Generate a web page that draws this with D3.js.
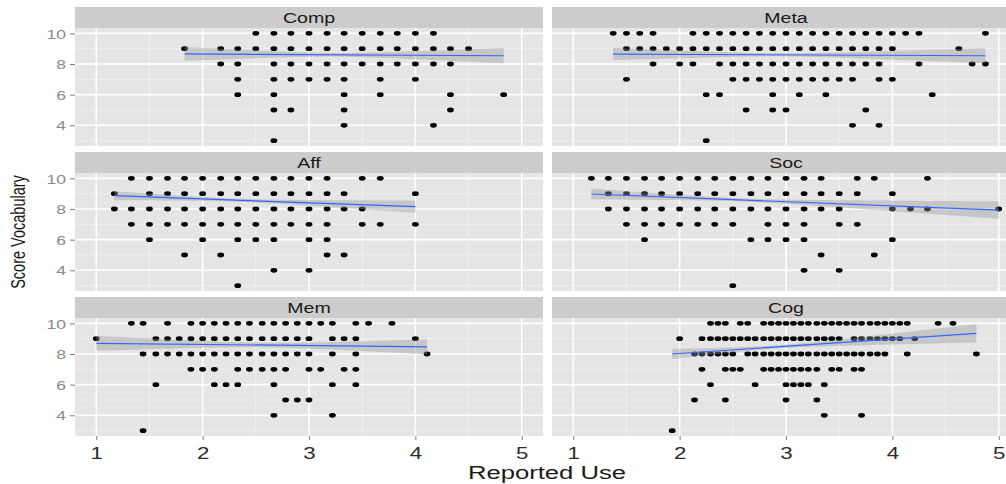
<!DOCTYPE html>
<html>
<head>
<meta charset="utf-8">
<script src="https://cdn.jsdelivr.net/npm/d3@7"></script>
<style>
  html, body { margin: 0; padding: 0; background: #ffffff; }
  svg { display: block; }
  text { font-family: "Liberation Sans", Arial, sans-serif; }
</style>
</head>
<body>
<svg id="chart" width="1006" height="484"></svg>
<script>
// Facet names, in panel order (left-to-right, top-to-bottom)
const facets = ["Comp", "Meta", "Aff", "Soc", "Mem", "Cog"];
const useTicks = [1, 2, 3, 4, 5];
const scoreTicks = [4, 6, 8, 10];
const useMinor = [1.5, 2.5, 3.5, 4.5];
const scoreMinor = [3, 5, 7, 9];

// Observations per facet: [vocabulary score, reported-use values at that score]
const compPoints = [
  [10, [2.5, 2.67, 2.83, 3, 3.17, 3.33, 3.5, 3.67, 3.83, 4, 4.17]],
  [9, [1.83, 2.17, 2.33, 2.5, 2.67, 2.83, 3, 3.17, 3.33, 3.5, 3.67, 3.83, 4, 4.17, 4.33, 4.5]],
  [8, [2.17, 2.33, 2.67, 2.83, 3, 3.17, 3.33, 3.5, 3.67, 3.83, 4, 4.17, 4.33]],
  [7, [2.33, 2.67, 2.83, 3, 3.17, 3.33, 3.67, 4]],
  [6, [2.33, 2.67, 3.33, 3.67, 4.33, 4.83]],
  [5, [2.67, 2.83, 3.33, 4.33]],
  [4, [3.33, 4.17]],
  [3, [2.67]]
];
const metaPoints = [
  [10, [1.375, 1.5, 1.625, 1.75, 2.125, 2.25, 2.375, 2.5, 2.625, 2.75, 2.875, 3, 3.125, 3.25, 3.375, 3.5, 3.625, 3.75, 3.875, 4, 4.125, 4.25, 4.875]],
  [9, [1.5, 1.625, 1.75, 1.875, 2, 2.125, 2.25, 2.375, 2.5, 2.625, 2.75, 2.875, 3, 3.125, 3.25, 3.375, 3.5, 3.625, 3.75, 3.875, 4, 4.625]],
  [8, [1.75, 2, 2.125, 2.375, 2.5, 2.625, 2.75, 2.875, 3, 3.125, 3.25, 3.375, 3.5, 3.625, 3.75, 3.875, 4.25, 4.75, 4.875]],
  [7, [1.5, 2.5, 2.625, 2.75, 2.875, 3, 3.125, 3.25, 3.375, 3.5, 3.625, 3.875, 4]],
  [6, [2.25, 2.375, 2.875, 3.125, 3.375, 4.375]],
  [5, [2.625, 2.875, 3, 3.75]],
  [4, [3.625, 3.875]],
  [3, [2.25]]
];
const affPoints = [
  [10, [1.33, 1.5, 1.67, 1.83, 2, 2.17, 2.33, 2.5, 2.67, 2.83, 3, 3.17, 3.5, 3.67]],
  [9, [1.17, 1.5, 1.67, 1.83, 2, 2.17, 2.33, 2.5, 2.67, 2.83, 3, 3.17, 3.33, 4]],
  [8, [1.17, 1.33, 1.5, 1.67, 1.83, 2, 2.17, 2.33, 2.5, 2.67, 2.83, 3, 3.17, 3.33, 3.5]],
  [7, [1.33, 1.5, 1.67, 1.83, 2, 2.17, 2.33, 2.5, 2.67, 2.83, 3, 3.17, 3.5, 3.67, 4]],
  [6, [1.5, 2, 2.33, 2.5, 2.67, 3, 3.17]],
  [5, [1.83, 2.17, 3.17, 3.33]],
  [4, [2.67, 3]],
  [3, [2.33]]
];
const socPoints = [
  [10, [1.17, 1.33, 1.5, 1.67, 1.83, 2, 2.17, 2.33, 2.5, 2.67, 2.83, 3, 3.17, 3.33, 3.67, 3.83, 4.33]],
  [9, [1.33, 1.5, 1.67, 1.83, 2, 2.17, 2.33, 2.5, 2.67, 2.83, 3, 3.17, 3.33, 3.5, 3.67, 4]],
  [8, [1.33, 1.5, 1.67, 1.83, 2, 2.17, 2.33, 2.5, 2.67, 2.83, 3, 3.17, 3.33, 3.5, 4, 4.17, 4.33, 5]],
  [7, [1.5, 1.67, 1.83, 2, 2.17, 2.33, 2.5, 2.83, 3, 3.17, 3.5, 3.67]],
  [6, [1.67, 2.67, 2.83, 3, 3.17, 4]],
  [5, [3.33, 3.83]],
  [4, [3.17, 3.5]],
  [3, [2.5]]
];
const memPoints = [
  [10, [1.33, 1.44, 1.67, 1.89, 2, 2.11, 2.22, 2.33, 2.44, 2.56, 2.67, 2.78, 2.89, 3, 3.11, 3.22, 3.44, 3.56, 3.78]],
  [9, [1, 1.56, 1.67, 1.78, 1.89, 2, 2.11, 2.22, 2.33, 2.44, 2.56, 2.67, 2.78, 2.89, 3, 3.22, 3.33, 3.44, 4]],
  [8, [1.44, 1.56, 1.67, 1.78, 1.89, 2, 2.11, 2.22, 2.33, 2.44, 2.56, 2.67, 2.78, 2.89, 3, 3.22, 3.44, 4.11]],
  [7, [1.89, 2, 2.11, 2.33, 2.44, 2.56, 2.67, 2.78, 3, 3.11, 3.33, 3.44]],
  [6, [1.56, 2.11, 2.22, 2.33, 2.67, 3.22, 3.44]],
  [5, [2.78, 2.89, 3]],
  [4, [2.67, 3.22]],
  [3, [1.44]]
];
const cogPoints = [
  [10, [2.29, 2.36, 2.43, 2.57, 2.64, 2.79, 2.86, 2.93, 3, 3.07, 3.14, 3.21, 3.29, 3.36, 3.43, 3.5, 3.57, 3.64, 3.71, 3.79, 3.86, 3.93, 4, 4.07, 4.14, 4.43, 4.57]],
  [9, [2, 2.21, 2.29, 2.36, 2.43, 2.5, 2.57, 2.64, 2.71, 2.79, 2.86, 2.93, 3, 3.07, 3.14, 3.21, 3.29, 3.36, 3.43, 3.5, 3.64, 3.71, 3.79, 3.86, 3.93, 4, 4.07, 4.21]],
  [8, [2.14, 2.21, 2.29, 2.36, 2.43, 2.5, 2.64, 2.71, 2.79, 2.86, 2.93, 3, 3.07, 3.14, 3.21, 3.29, 3.36, 3.43, 3.5, 3.57, 3.64, 3.71, 3.79, 3.86, 3.93, 4.14, 4.79]],
  [7, [2.21, 2.43, 2.5, 2.57, 2.79, 2.86, 2.93, 3, 3.07, 3.14, 3.21, 3.29, 3.43, 3.5, 3.64, 3.71]],
  [6, [2.29, 2.71, 3, 3.07, 3.14, 3.21, 3.36]],
  [5, [2.14, 2.43, 3, 3.29]],
  [4, [3.36, 3.71]],
  [3, [1.93]]
];

// Linear fit per facet: fitted score at the lowest and highest reported use,
// and the half-width of the confidence band at the left end, right end and narrowest point
const fitStart = [8.66, 8.65, 8.87, 8.98, 8.70, 8.00];
const fitEnd = [8.54, 8.54, 8.15, 7.93, 8.47, 9.35];
const bandLeft = [0.45, 0.40, 0.29, 0.35, 0.49, 0.33];
const bandRight = [0.50, 0.49, 0.40, 0.57, 0.49, 0.60];
const bandMin = [0.12, 0.10, 0.10, 0.10, 0.15, 0.10];

const pointSets = [compPoints, metaPoints, affPoints, socPoints, memPoints, cogPoints];

// ---- layout ----
const colX = [75, 552];
const panelW = 468;
const rowTop = [7, 152, 297];
const stripH = 21;
const panelH = 118;
const xDomain = [0.8, 5.2];
const yDomain = [2.65, 10.35];
const stretch = 1.35; // horizontal widening of all text

const svg = d3.select("#chart");
svg.append("rect").attr("width", 1006).attr("height", 484).attr("fill", "#ffffff");

facets.forEach((name, i) => {
  const col = i % 2, row = Math.floor(i / 2);
  const x0 = colX[col];
  const top = rowTop[row] + stripH;
  const x = d3.scaleLinear().domain(xDomain).range([x0, x0 + panelW]);
  const y = d3.scaleLinear().domain(yDomain).range([top + panelH, top]);

  const g = svg.append("g").attr("class", "panel");

  // strip
  g.append("rect").attr("x", x0).attr("y", rowTop[row]).attr("width", panelW).attr("height", stripH)
    .attr("fill", "#cccccc");
  g.append("text")
    .attr("transform", `translate(${x0 + panelW / 2},${rowTop[row] + 16}) scale(${stretch},1)`)
    .attr("text-anchor", "middle").attr("font-size", 14.5).attr("fill", "#1a1a1a")
    .text(name);

  // panel background
  g.append("rect").attr("x", x0).attr("y", top).attr("width", panelW).attr("height", panelH)
    .attr("fill", "#e5e5e5");

  // minor grid
  g.selectAll(".vminor").data(useMinor).join("line")
    .attr("x1", d => x(d)).attr("x2", d => x(d)).attr("y1", top).attr("y2", top + panelH)
    .attr("stroke", "#f2f2f2").attr("stroke-width", 0.9);
  g.selectAll(".hminor").data(scoreMinor).join("line")
    .attr("y1", d => y(d)).attr("y2", d => y(d)).attr("x1", x0).attr("x2", x0 + panelW)
    .attr("stroke", "#f2f2f2").attr("stroke-width", 0.9);
  // major grid
  g.selectAll(".vmajor").data(useTicks).join("line")
    .attr("x1", d => x(d)).attr("x2", d => x(d)).attr("y1", top).attr("y2", top + panelH)
    .attr("stroke", "#ffffff").attr("stroke-width", 1.6);
  g.selectAll(".hmajor").data(scoreTicks).join("line")
    .attr("y1", d => y(d)).attr("y2", d => y(d)).attr("x1", x0).attr("x2", x0 + panelW)
    .attr("stroke", "#ffffff").attr("stroke-width", 1.6);

  // points
  const pts = [];
  pointSets[i].forEach(([score, uses]) => uses.forEach(u => pts.push({ u, score })));
  g.selectAll(".pt").data(pts).join("ellipse")
    .attr("cx", d => x(d.u)).attr("cy", d => y(d.score))
    .attr("rx", 3.4).attr("ry", 2.4).attr("fill", "#000000");

  // fitted line with confidence band
  const [uMin, uMax] = d3.extent(pts, d => d.u);
  const slope = (fitEnd[i] - fitStart[i]) / (uMax - uMin);
  const fit = u => fitStart[i] + slope * (u - uMin);
  const a = Math.sqrt(bandLeft[i] ** 2 - bandMin[i] ** 2);
  const b = Math.sqrt(bandRight[i] ** 2 - bandMin[i] ** 2);
  const uBar = (uMin * b + uMax * a) / (a + b);
  const c = a / Math.max(uBar - uMin, 1e-6);
  const halfWidth = u => Math.sqrt(bandMin[i] ** 2 + (c * (u - uBar)) ** 2);
  const grid = d3.range(0, 81).map(k => uMin + (uMax - uMin) * k / 80);

  g.append("path").datum(grid)
    .attr("d", d3.area().x(u => x(u)).y0(u => y(fit(u) - halfWidth(u))).y1(u => y(fit(u) + halfWidth(u))))
    .attr("fill", "#999999").attr("fill-opacity", 0.4);
  g.append("path").datum([uMin, uMax])
    .attr("d", d3.line().x(u => x(u)).y(u => y(fit(u))))
    .attr("fill", "none").attr("stroke", "#3366ff").attr("stroke-width", 1.2);

  // y axis on the left column
  if (col === 0) {
    const ya = svg.append("g").attr("transform", `translate(${x0},0)`)
      .call(d3.axisLeft(y).tickValues(scoreTicks).tickSize(5).tickPadding(4));
    ya.select(".domain").remove();
    ya.selectAll(".tick line").attr("stroke", "#7f7f7f");
    ya.selectAll(".tick text")
      .attr("fill", "#8a8a8a").attr("font-size", 13).attr("font-family", null)
      .attr("dy", "0.36em")
      .each(function () {
        const t = d3.select(this);
        const tx = +t.attr("x");
        t.attr("x", null).attr("transform", `translate(${tx},0) scale(${stretch},1)`);
      });
  }
  // x axis on the bottom row
  if (row === 2) {
    const xa = svg.append("g").attr("transform", `translate(0,${top + panelH})`)
      .call(d3.axisBottom(x).tickValues(useTicks).tickFormat(d3.format("d")).tickSize(4).tickPadding(4));
    xa.select(".domain").remove();
    xa.selectAll(".tick line").attr("stroke", "#7f7f7f");
    xa.selectAll(".tick text")
      .attr("fill", "#2b2b2b").attr("font-size", 16.5).attr("font-family", null)
      .attr("y", null).attr("dy", null)
      .attr("transform", `translate(0,23) scale(${stretch},1)`);
  }
});

// axis titles
svg.append("text")
  .attr("transform", `translate(547,479) scale(${stretch},1)`)
  .attr("text-anchor", "middle").attr("font-size", 19).attr("fill", "#1a1a1a")
  .text("Reported Use");
svg.append("text")
  .attr("transform", `translate(25,232) scale(${stretch},1) rotate(-90)`)
  .attr("text-anchor", "middle").attr("font-size", 14.5).attr("fill", "#1a1a1a")
  .text("Score Vocabulary");
</script>
</body>
</html>
